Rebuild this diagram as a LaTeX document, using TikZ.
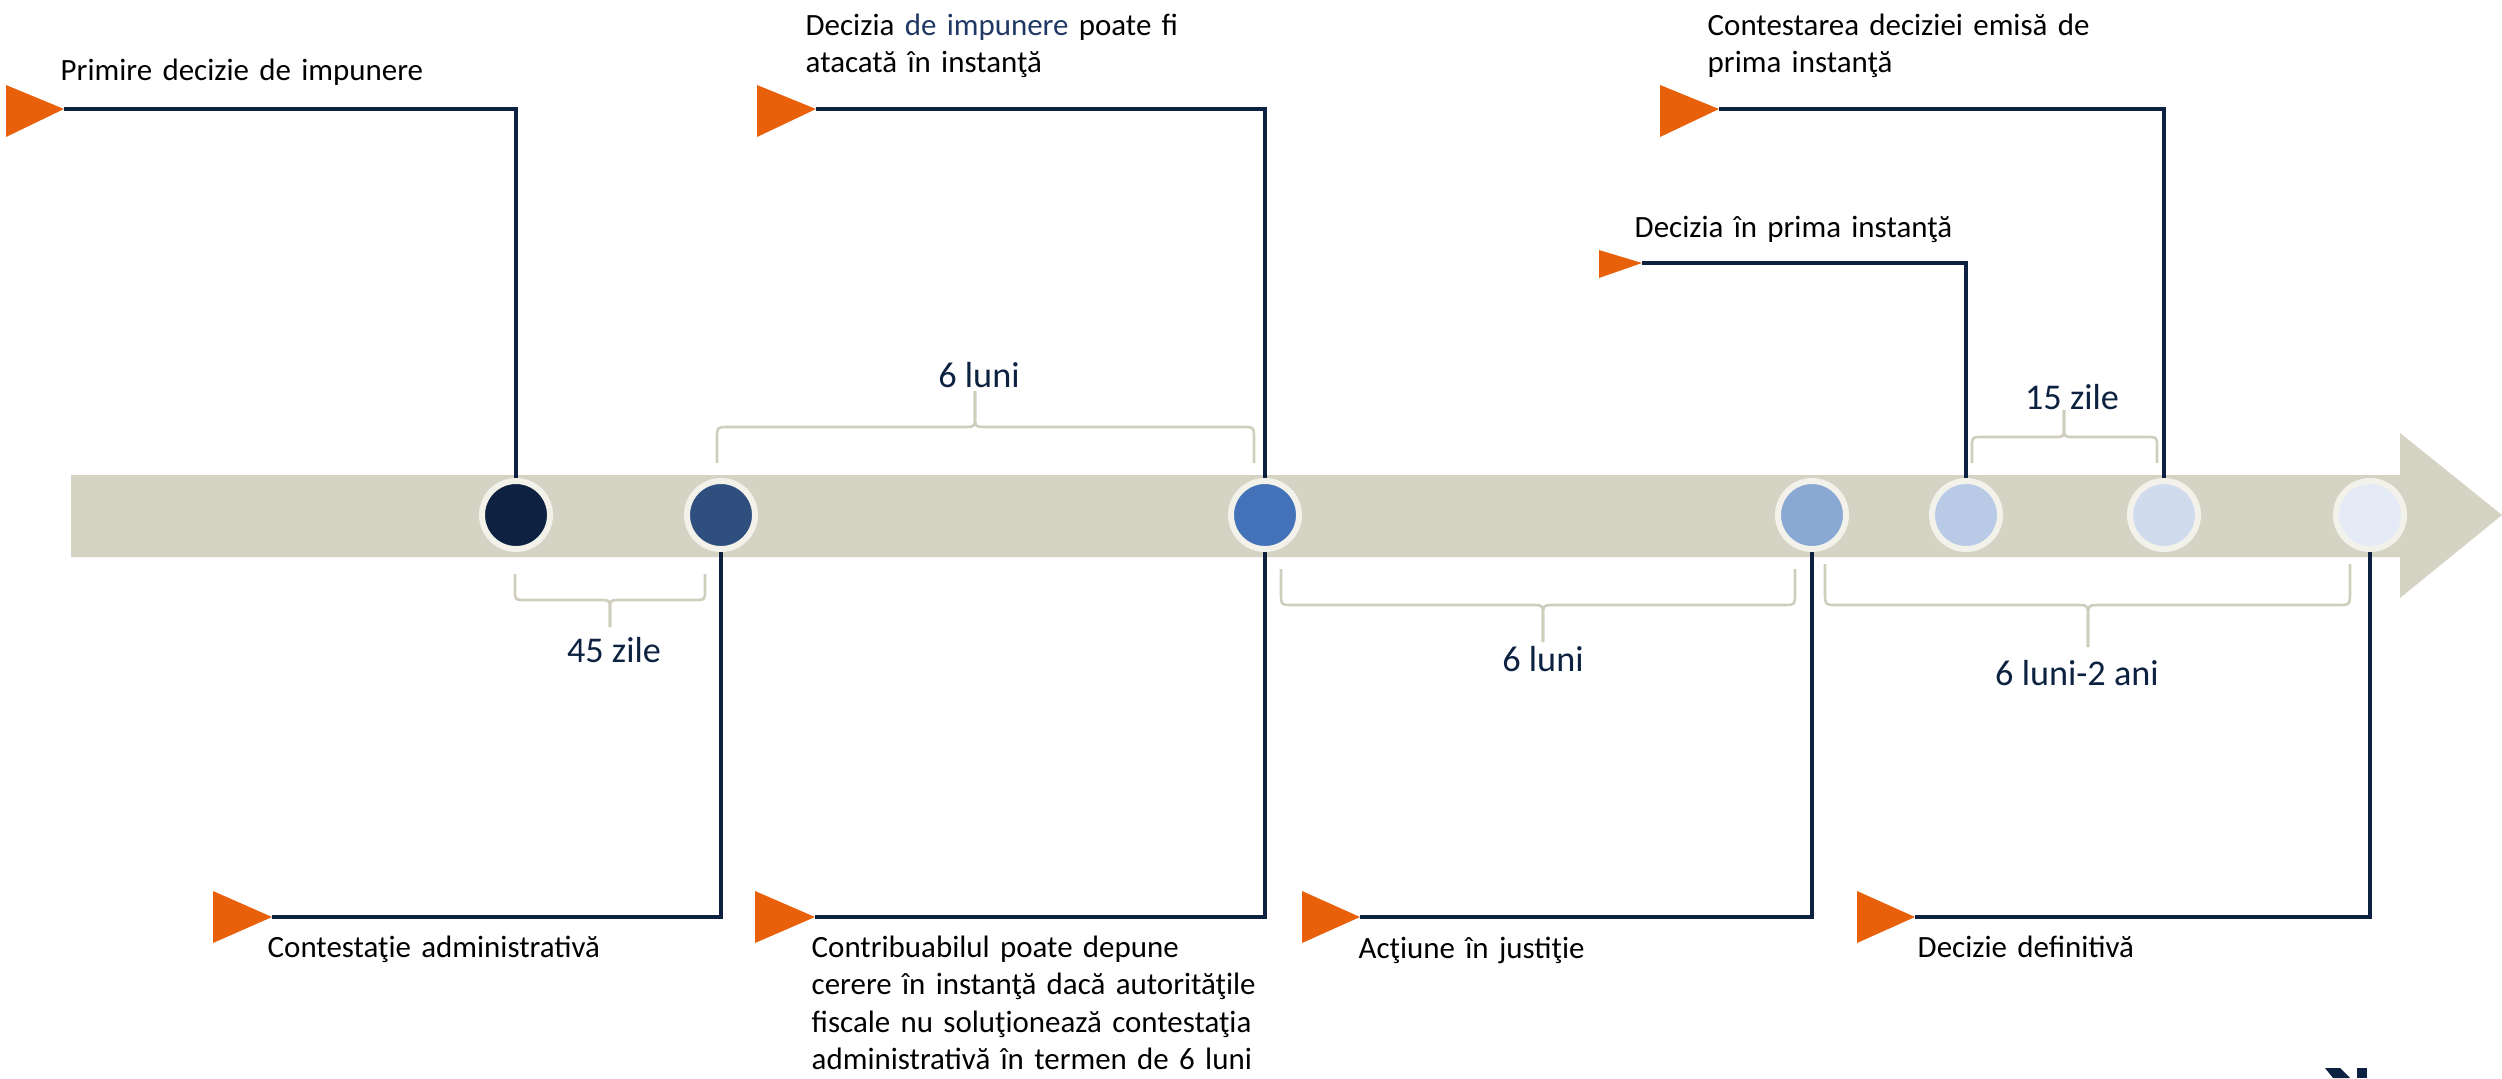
\documentclass[tikz,border=0pt]{standalone}
\usepackage{fontspec}
\setmainfont{Carlito}
\definecolor{navy}{HTML}{0C2240}
\definecolor{accent}{HTML}{E8600A}
\definecolor{barc}{HTML}{D4D3C4}
\definecolor{bracec}{HTML}{CFCDBC}
\definecolor{ringc}{HTML}{F2F1EA}
\definecolor{deepblue}{HTML}{1F3864}
\definecolor{dA}{HTML}{0D2240}
\definecolor{dB}{HTML}{2F4F7E}
\definecolor{dC}{HTML}{4472B8}
\definecolor{dD}{HTML}{8AA8D4}
\definecolor{dE}{HTML}{B8CAE5}
\definecolor{dF}{HTML}{D0DCEE}
\definecolor{dG}{HTML}{E4EBF6}
\newcommand\durbrace[6]{%
\draw[brc] (#1,#4) -- (#1,{#5+0.35*(#4-#5)}) .. controls (#1,#5) .. (#1+12,#5) -- (#3-12,#5) .. controls (#3,#5) .. (#3,{#5+0.35*(#6-#5)}) -- (#3,#6);
\draw[brc] (#3,#6) -- (#3,{#5+0.35*(#6-#5)}) .. controls (#3,#5) .. (#3+12,#5) -- (#2-12,#5) .. controls (#2,#5) .. (#2,{#5+0.35*(#4-#5)}) -- (#2,#4);}
\tikzset{
  tldot/.style={circle, inner sep=0pt, minimum size=0.68cm, line width=0.06cm, draw=ringc},
  lead/.style={draw=navy, line width=0.032cm},
  flag/.style={fill=accent},
  callout/.style={anchor=base west, inner sep=0pt, font=\fontsize{8.8}{10.7}\selectfont, text width=7cm, align=left},
  dur/.style={anchor=base, inner sep=0pt, text=navy, font=\fontsize{10.3}{12}\selectfont},
  brc/.style={draw=bracec, line width=0.026cm},
}
\begin{document}
\begin{tikzpicture}[x=0.01cm, y=-0.01cm]
\useasboundingbox (0,0) rectangle (2502,1078);
% timeline bar with arrow head
\fill[barc] (71,475) -- (2400,475) -- (2400,433) -- (2502,515) -- (2400,598) -- (2400,557) -- (71,557) -- cycle;
% milestones
\node[tldot, fill=dA] (c1) at (516,515) {};
\node[tldot, fill=dB] (c2) at (721,515) {};
\node[tldot, fill=dC] (c3) at (1265,515) {};
\node[tldot, fill=dD] (c4) at (1812,515) {};
\node[tldot, fill=dE] (c5) at (1966,515) {};
\node[tldot, fill=dF] (c6) at (2164,515) {};
\node[tldot, fill=dG] (c7) at (2370,515) {};
% flags
\fill[flag] (6,85) -- (64,109) -- (6,137) -- cycle;
\coordinate (t1) at (64,109);
\fill[flag] (757,85) -- (816,109) -- (757,137) -- cycle;
\coordinate (t2) at (816,109);
\fill[flag] (1660,85) -- (1719,109) -- (1660,137) -- cycle;
\coordinate (t3) at (1719,109);
\fill[flag] (1599,250) -- (1642,263) -- (1599,278) -- cycle;
\coordinate (t4) at (1642,263);
\fill[flag] (213,891) -- (272,917) -- (213,943) -- cycle;
\coordinate (t5) at (272,917);
\fill[flag] (755,891) -- (815,917) -- (755,943) -- cycle;
\coordinate (t6) at (815,917);
\fill[flag] (1302,891) -- (1360,917) -- (1302,943) -- cycle;
\coordinate (t7) at (1360,917);
\fill[flag] (1857,891) -- (1915,917) -- (1857,943) -- cycle;
\coordinate (t8) at (1915,917);
% leaders
\draw[lead] (t1) -| (c1);
\draw[lead] (t2) -| (c3);
\draw[lead] (t3) -| (c6);
\draw[lead] (t4) -| (c5);
\draw[lead] (t5) -| (c2);
\draw[lead] (t6) -| (c3);
\draw[lead] (t7) -| (c4);
\draw[lead] (t8) -| (c7);
% callout texts
\node[callout] (l1) at (60,80) {Primire decizie de impunere};
\node[callout] (l2) at (805,35) {Decizia {\color{deepblue}de impunere} poate fi\\atacată în instanţă};
\node[callout] (l3) at (1707,35) {Contestarea deciziei emisă de\\prima instanţă};
\node[callout] (l4) at (1634,237) {Decizia în prima instanţă};
\node[callout] (l5) at (267,957) {Contestaţie administrativă};
\node[callout] (l6) at (811,957) {Contribuabilul poate depune\\cerere în instanţă dacă autorităţile\\fiscale nu soluţionează contestaţia\\administrativă în termen de 6 luni};
\node[callout] (l7) at (1358,958) {Acţiune în justiţie};
\node[callout] (l8) at (1917,957) {Decizie definitivă};
% duration braces
\durbrace{717}{1254}{975}{463}{427}{391}
\durbrace{515}{705}{610}{574}{600}{627}
\durbrace{1281}{1795}{1543}{569}{605}{642}
\durbrace{1825}{2350}{2088}{564}{605}{647}
\durbrace{1972}{2157}{2064}{463}{437}{410}
\node[dur] (d1) at (979,387) {6 luni};
\node[dur] (d2) at (614,662) {45 zile};
\node[dur] (d3) at (1543,671) {6 luni};
\node[dur] (d4) at (2077,685) {6 luni-2 ani};
\node[dur] (d5) at (2072,409) {15 zile};
% cropped mark at the lower right edge
\fill[navy] (2325,1068) -- (2340,1068) -- (2350,1078) -- (2333,1078) -- cycle;
\fill[navy] (2357,1068) -- (2367,1068) -- (2367,1078) -- (2357,1078) -- cycle;
\end{tikzpicture}
\end{document}
